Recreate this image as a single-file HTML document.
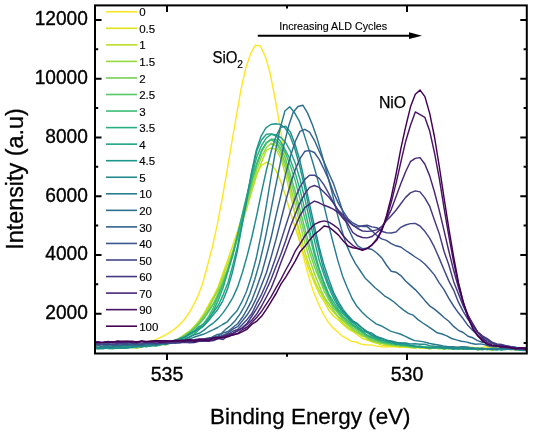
<!DOCTYPE html>
<html><head><meta charset="utf-8"><style>html,body{margin:0;padding:0;background:#fff;width:533px;height:432px;overflow:hidden}svg{display:block;will-change:transform}</style></head>
<body><svg width="533" height="432" viewBox="0 0 533 432"><path d="M95.0 343.08h3.2M526.8 343.08h-3.2M95.0 313.70h6.5M526.8 313.70h-6.5M95.0 284.32h3.2M526.8 284.32h-3.2M95.0 254.94h6.5M526.8 254.94h-6.5M95.0 225.56h3.2M526.8 225.56h-3.2M95.0 196.18h6.5M526.8 196.18h-6.5M95.0 166.80h3.2M526.8 166.80h-3.2M95.0 137.42h6.5M526.8 137.42h-6.5M95.0 108.04h3.2M526.8 108.04h-3.2M95.0 78.66h6.5M526.8 78.66h-6.5M95.0 49.28h3.2M526.8 49.28h-3.2M95.0 19.90h6.5M526.8 19.90h-6.5M167 5.4v6.5M167 353.5v6.5M287 5.4v3.2M287 353.5v3.2M407 5.4v6.5M407 353.5v6.5" stroke="#000" stroke-width="2" fill="none"/>
<g clip-path="url(#pc)"><clipPath id="pc"><rect x="95" y="5" width="432" height="348"/></clipPath><path d="M95.0,345.1 97.0,345.3 101.8,344.9 106.6,343.9 111.4,344.9 116.2,344.6 121.0,343.9 125.8,344.1 130.6,343.7 135.4,343.3 140.2,342.9 145.0,342.7 149.8,341.2 154.6,340.2 159.4,337.9 164.2,335.6 169.0,332.8 173.8,329.7 178.6,325.6 183.4,320.7 188.2,314.3 193.0,305.9 197.8,296.4 202.6,283.5 207.4,266.0 212.2,247.5 217.0,226.2 221.8,200.8 226.6,173.5 231.4,144.6 236.2,117.1 241.0,89.3 245.8,67.9 250.6,53.7 255.4,45.1 260.2,46.0 265.0,55.5 269.8,71.8 274.6,95.8 279.4,123.1 284.2,151.7 289.0,181.3 293.8,209.4 298.6,234.1 303.4,256.5 308.2,275.1 313.0,290.3 317.8,302.3 322.6,312.8 327.4,321.0 332.2,327.1 337.0,331.3 341.8,335.8 346.6,338.4 351.4,341.4 356.2,342.0 361.0,344.1 365.8,344.7 370.6,344.9 375.4,345.9 380.2,346.5 385.0,347.0 389.8,346.6 394.6,346.7 399.4,347.4 404.2,347.2 409.0,347.6 413.8,347.9 418.6,346.7 423.4,347.6 428.2,348.1 433.0,347.4 437.8,347.1 442.6,347.9 447.4,347.7 452.2,348.0 457.0,347.4 461.8,346.8 466.6,347.5 471.4,347.3 476.2,347.9 481.0,347.6 485.8,346.7 490.6,347.0 495.4,348.0 500.2,347.9 505.0,347.2 509.8,347.6 514.6,347.8 519.4,347.6 524.2,347.6 527.0,347.2" fill="none" stroke="#fde725" stroke-width="1.45" stroke-linejoin="round"/><path d="M95.0,347.7 98.4,347.3 103.2,347.4 108.0,346.4 112.8,348.4 117.6,348.0 122.4,347.1 127.2,347.5 132.0,347.1 136.8,346.5 141.6,346.9 146.4,345.8 151.2,345.3 156.0,344.5 160.8,344.7 165.6,343.9 170.4,342.9 175.2,340.4 180.0,337.9 184.8,334.2 189.6,331.2 194.4,326.1 199.2,320.4 204.0,313.5 208.8,304.7 213.6,296.2 218.4,286.2 223.2,272.5 228.0,259.3 232.8,245.2 237.6,231.3 242.4,215.2 247.2,200.1 252.0,185.5 256.8,173.2 261.6,165.3 266.4,162.1 271.2,164.7 276.0,170.4 280.8,181.6 285.6,196.0 290.4,212.4 295.2,227.2 300.0,242.6 304.8,257.4 309.6,271.5 314.4,282.8 319.2,293.9 324.0,301.3 328.8,310.2 333.6,316.3 338.4,320.0 343.2,324.7 348.0,328.8 352.8,331.5 357.6,335.0 362.4,338.5 367.2,340.0 372.0,341.8 376.8,343.2 381.6,345.1 386.4,345.6 391.2,346.1 396.0,346.3 400.8,347.0 405.6,346.5 410.4,346.7 415.2,346.5 420.0,348.4 424.8,348.0 429.6,348.8 434.4,348.1 439.2,347.9 444.0,348.5 448.8,348.3 453.6,347.8 458.4,348.0 463.2,349.4 468.0,348.8 472.8,348.9 477.6,348.6 482.4,348.4 487.2,349.2 492.0,348.8 496.8,348.5 501.6,348.8 506.4,348.5 511.2,349.0 516.0,349.6 520.8,348.8 525.6,350.1 527.0,349.1" fill="none" stroke="#dde318" stroke-width="1.45" stroke-linejoin="round"/><path d="M95.0,348.6 98.4,346.3 103.2,347.7 108.0,347.2 112.8,347.2 117.6,347.2 122.4,346.2 127.2,346.9 132.0,346.4 136.8,348.3 141.6,346.5 146.4,345.7 151.2,345.3 156.0,344.7 160.8,344.0 165.6,343.8 170.4,343.0 175.2,340.8 180.0,338.8 184.8,335.2 189.6,331.6 194.4,327.8 199.2,321.6 204.0,314.3 208.8,306.5 213.6,297.7 218.4,288.1 223.2,275.6 228.0,263.3 232.8,250.8 237.6,236.0 242.4,221.7 247.2,206.9 252.0,190.9 256.8,175.1 261.6,161.9 266.4,150.4 271.2,147.9 276.0,149.5 280.8,158.5 285.6,174.9 290.4,194.6 295.2,214.6 300.0,233.9 304.8,251.9 309.6,266.8 314.4,280.1 319.2,290.2 324.0,298.7 328.8,306.6 333.6,312.3 338.4,317.5 343.2,323.0 348.0,327.3 352.8,330.4 357.6,333.2 362.4,336.4 367.2,337.6 372.0,341.4 376.8,342.9 381.6,343.0 386.4,344.7 391.2,344.8 396.0,346.2 400.8,345.2 405.6,346.3 410.4,347.6 415.2,348.1 420.0,346.7 424.8,347.7 429.6,348.2 434.4,347.9 439.2,349.1 444.0,347.8 448.8,348.6 453.6,347.9 458.4,349.2 463.2,348.6 468.0,348.5 472.8,347.9 477.6,349.7 482.4,349.3 487.2,349.3 492.0,349.5 496.8,349.2 501.6,348.7 506.4,348.7 511.2,348.7 516.0,349.8 520.8,348.6 525.6,349.1 527.0,349.3" fill="none" stroke="#bade28" stroke-width="1.45" stroke-linejoin="round"/><path d="M95.0,347.3 98.4,347.5 103.2,348.3 108.0,347.7 112.8,346.4 117.6,347.1 122.4,346.7 127.2,346.9 132.0,345.9 136.8,346.7 141.6,346.4 146.4,346.6 151.2,345.6 156.0,345.4 160.8,344.0 165.6,345.1 170.4,341.9 175.2,341.7 180.0,338.7 184.8,335.4 189.6,331.8 194.4,327.2 199.2,322.1 204.0,315.3 208.8,308.6 213.6,298.5 218.4,289.9 223.2,278.8 228.0,267.8 232.8,253.0 237.6,238.8 242.4,222.3 247.2,203.5 252.0,186.6 256.8,169.4 261.6,156.5 266.4,147.5 271.2,143.2 276.0,146.0 280.8,154.6 285.6,168.7 290.4,186.2 295.2,204.7 300.0,224.2 304.8,242.5 309.6,259.2 314.4,273.6 319.2,285.6 324.0,296.7 328.8,303.6 333.6,310.6 338.4,316.6 343.2,320.7 348.0,325.3 352.8,329.3 357.6,332.8 362.4,334.5 367.2,338.5 372.0,340.0 376.8,341.9 381.6,343.4 386.4,344.2 391.2,345.2 396.0,345.4 400.8,345.8 405.6,346.5 410.4,346.4 415.2,347.8 420.0,347.1 424.8,347.0 429.6,348.9 434.4,348.0 439.2,347.6 444.0,349.2 448.8,348.2 453.6,349.0 458.4,348.1 463.2,348.5 468.0,347.9 472.8,347.9 477.6,348.4 482.4,348.9 487.2,349.4 492.0,350.3 496.8,348.6 501.6,349.7 506.4,348.9 511.2,349.2 516.0,348.6 520.8,348.7 525.6,349.1 527.0,348.9" fill="none" stroke="#95d840" stroke-width="1.45" stroke-linejoin="round"/><path d="M95.0,347.4 98.4,347.1 103.2,347.6 108.0,347.9 112.8,348.2 117.6,347.7 122.4,347.3 127.2,347.1 132.0,347.7 136.8,347.9 141.6,346.8 146.4,345.4 151.2,345.0 156.0,345.8 160.8,344.7 165.6,343.1 170.4,342.6 175.2,340.2 180.0,337.8 184.8,335.0 189.6,331.6 194.4,328.0 199.2,322.7 204.0,316.8 208.8,310.8 213.6,303.2 218.4,292.5 223.2,281.9 228.0,268.4 232.8,253.7 237.6,236.1 242.4,218.4 247.2,199.4 252.0,180.8 256.8,163.9 261.6,151.5 266.4,142.8 271.2,139.7 276.0,143.4 280.8,150.9 285.6,164.3 290.4,180.2 295.2,197.1 300.0,217.0 304.8,234.5 309.6,251.9 314.4,266.8 319.2,278.7 324.0,290.6 328.8,299.9 333.6,308.2 338.4,313.5 343.2,319.8 348.0,323.6 352.8,328.0 357.6,331.0 362.4,334.9 367.2,337.2 372.0,340.6 376.8,341.4 381.6,342.7 386.4,343.5 391.2,343.7 396.0,344.7 400.8,346.1 405.6,345.8 410.4,346.5 415.2,346.8 420.0,347.5 424.8,347.3 429.6,347.6 434.4,348.1 439.2,348.2 444.0,347.9 448.8,348.9 453.6,347.8 458.4,347.9 463.2,348.0 468.0,349.3 472.8,348.8 477.6,348.5 482.4,348.5 487.2,349.3 492.0,348.6 496.8,348.6 501.6,349.5 506.4,348.7 511.2,349.1 516.0,349.3 520.8,349.2 525.6,349.4 527.0,350.1" fill="none" stroke="#75d054" stroke-width="1.45" stroke-linejoin="round"/><path d="M95.0,348.5 98.4,348.8 103.2,346.6 108.0,347.7 112.8,348.2 117.6,348.2 122.4,347.7 127.2,347.9 132.0,347.1 136.8,347.0 141.6,346.4 146.4,345.4 151.2,345.0 156.0,345.1 160.8,344.1 165.6,344.5 170.4,343.4 175.2,342.0 180.0,338.7 184.8,336.9 189.6,332.7 194.4,328.7 199.2,324.1 204.0,318.6 208.8,311.3 213.6,303.7 218.4,295.1 223.2,282.9 228.0,270.3 232.8,254.3 237.6,237.0 242.4,218.3 247.2,199.6 252.0,180.7 256.8,165.0 261.6,151.5 266.4,143.1 271.2,139.2 276.0,141.7 280.8,148.2 285.6,158.8 290.4,174.9 295.2,191.0 300.0,209.6 304.8,228.2 309.6,246.2 314.4,261.1 319.2,275.5 324.0,287.2 328.8,296.4 333.6,305.9 338.4,312.7 343.2,317.7 348.0,322.6 352.8,326.1 357.6,329.4 362.4,332.9 367.2,336.3 372.0,338.3 376.8,340.5 381.6,342.2 386.4,342.8 391.2,343.9 396.0,345.1 400.8,344.4 405.6,346.1 410.4,345.4 415.2,347.0 420.0,347.2 424.8,347.1 429.6,347.0 434.4,347.7 439.2,347.7 444.0,348.1 448.8,347.8 453.6,348.6 458.4,347.9 463.2,348.4 468.0,348.5 472.8,349.4 477.6,348.1 482.4,348.7 487.2,349.5 492.0,348.7 496.8,348.5 501.6,349.3 506.4,349.0 511.2,349.7 516.0,348.8 520.8,349.5 525.6,349.8 527.0,350.0" fill="none" stroke="#56c667" stroke-width="1.45" stroke-linejoin="round"/><path d="M95.0,347.9 98.4,347.9 103.2,347.3 108.0,346.7 112.8,346.8 117.6,346.3 122.4,346.6 127.2,347.1 132.0,345.9 136.8,345.6 141.6,346.0 146.4,345.8 151.2,345.3 156.0,344.2 160.8,343.9 165.6,343.9 170.4,342.1 175.2,341.4 180.0,339.0 184.8,337.4 189.6,334.8 194.4,332.4 199.2,327.7 204.0,323.1 208.8,316.1 213.6,307.3 218.4,295.6 223.2,284.1 228.0,269.8 232.8,253.4 237.6,234.6 242.4,216.1 247.2,196.7 252.0,178.5 256.8,163.4 261.6,150.1 266.4,142.5 271.2,139.3 276.0,139.5 280.8,144.7 285.6,153.6 290.4,165.8 295.2,180.6 300.0,199.0 304.8,218.5 309.6,235.9 314.4,255.1 319.2,270.8 324.0,284.3 328.8,296.9 333.6,305.2 338.4,310.8 343.2,316.5 348.0,321.0 352.8,324.8 357.6,329.1 362.4,332.0 367.2,335.3 372.0,338.3 376.8,339.4 381.6,341.6 386.4,342.7 391.2,343.8 396.0,343.6 400.8,344.5 405.6,345.3 410.4,346.6 415.2,347.1 420.0,346.2 424.8,346.7 429.6,347.6 434.4,346.5 439.2,347.4 444.0,347.7 448.8,348.6 453.6,348.5 458.4,348.2 463.2,348.3 468.0,348.3 472.8,349.2 477.6,348.3 482.4,348.5 487.2,348.9 492.0,348.7 496.8,348.7 501.6,348.3 506.4,349.0 511.2,348.8 516.0,349.7 520.8,349.6 525.6,349.4 527.0,349.8" fill="none" stroke="#3dbc74" stroke-width="1.45" stroke-linejoin="round"/><path d="M95.0,347.1 98.4,347.2 103.2,346.8 108.0,346.9 112.8,345.7 117.6,346.6 122.4,346.0 127.2,346.7 132.0,346.5 136.8,346.5 141.6,346.0 146.4,345.6 151.2,345.7 156.0,345.4 160.8,343.6 165.6,343.8 170.4,342.8 175.2,342.5 180.0,340.0 184.8,338.6 189.6,336.9 194.4,334.1 199.2,329.5 204.0,325.6 208.8,318.9 213.6,310.6 218.4,300.1 223.2,287.5 228.0,271.3 232.8,255.5 237.6,234.9 242.4,213.6 247.2,193.9 252.0,174.9 256.8,156.8 261.6,145.3 266.4,137.8 271.2,134.3 276.0,135.7 280.8,141.8 285.6,150.7 290.4,159.9 295.2,172.9 300.0,189.6 304.8,209.7 309.6,230.5 314.4,251.1 319.2,268.8 324.0,282.4 328.8,294.1 333.6,302.2 338.4,309.4 343.2,314.1 348.0,318.9 352.8,325.0 357.6,327.8 362.4,331.3 367.2,335.2 372.0,337.1 376.8,338.8 381.6,340.5 386.4,341.4 391.2,343.3 396.0,343.4 400.8,345.2 405.6,345.0 410.4,345.8 415.2,346.2 420.0,347.1 424.8,347.2 429.6,348.0 434.4,347.3 439.2,347.9 444.0,348.9 448.8,348.0 453.6,348.5 458.4,349.2 463.2,348.8 468.0,348.3 472.8,347.6 477.6,349.9 482.4,349.0 487.2,349.5 492.0,348.7 496.8,349.9 501.6,349.3 506.4,349.2 511.2,348.7 516.0,349.4 520.8,349.1 525.6,349.3 527.0,348.7" fill="none" stroke="#29af7f" stroke-width="1.45" stroke-linejoin="round"/><path d="M95.0,347.9 98.4,348.3 103.2,347.4 108.0,348.6 112.8,348.7 117.6,347.8 122.4,348.0 127.2,347.7 132.0,347.1 136.8,346.6 141.6,345.6 146.4,346.7 151.2,345.4 156.0,346.0 160.8,344.7 165.6,343.9 170.4,342.3 175.2,341.6 180.0,338.3 184.8,337.0 189.6,333.4 194.4,330.7 199.2,326.3 204.0,324.1 208.8,318.1 213.6,312.0 218.4,305.2 223.2,294.6 228.0,282.7 232.8,265.3 237.6,245.8 242.4,221.2 247.2,195.2 252.0,171.1 256.8,150.9 261.6,139.7 266.4,134.3 271.2,133.9 276.0,135.0 280.8,137.5 285.6,142.5 290.4,151.2 295.2,163.0 300.0,179.2 304.8,198.7 309.6,220.0 314.4,240.4 319.2,260.3 324.0,274.7 328.8,287.7 333.6,298.3 338.4,306.7 343.2,312.6 348.0,317.7 352.8,322.4 357.6,326.5 362.4,330.5 367.2,332.7 372.0,335.9 376.8,337.8 381.6,340.1 386.4,341.6 391.2,341.8 396.0,344.4 400.8,344.1 405.6,344.7 410.4,345.5 415.2,346.4 420.0,346.9 424.8,347.5 429.6,347.5 434.4,347.9 439.2,347.0 444.0,347.6 448.8,347.6 453.6,348.4 458.4,348.7 463.2,347.8 468.0,348.4 472.8,348.9 477.6,349.0 482.4,348.1 487.2,348.9 492.0,348.9 496.8,348.5 501.6,349.8 506.4,348.3 511.2,348.7 516.0,349.2 520.8,349.3 525.6,349.3 527.0,350.1" fill="none" stroke="#20a386" stroke-width="1.45" stroke-linejoin="round"/><path d="M95.0,347.8 98.0,347.9 102.8,347.9 107.5,348.4 112.3,348.0 117.1,348.0 122.0,348.2 126.8,348.0 131.5,347.6 136.3,346.8 141.1,346.2 145.9,345.6 150.7,345.3 155.5,344.8 160.3,343.8 165.1,343.3 169.9,343.0 174.7,340.4 179.5,339.1 184.3,337.3 189.1,334.4 193.9,331.7 198.7,328.8 203.5,325.8 208.3,321.1 213.1,315.1 217.9,309.2 222.7,301.1 227.5,289.1 232.3,272.9 237.1,252.0 241.9,226.4 246.7,200.0 251.5,172.6 256.3,150.2 261.1,136.1 265.9,127.8 270.8,124.5 275.5,123.7 280.3,124.4 285.1,128.0 289.9,135.4 294.8,148.5 299.5,165.5 304.3,185.6 309.1,208.8 313.9,230.5 318.8,250.1 323.5,268.7 328.3,282.9 333.1,293.9 337.9,304.0 342.8,310.8 347.5,316.5 352.3,321.6 357.1,324.1 361.9,328.0 366.8,331.6 371.5,334.9 376.3,336.8 381.1,338.5 385.9,340.0 390.8,341.7 395.5,342.9 400.3,342.8 405.1,343.4 409.9,345.4 414.8,346.0 419.5,346.2 424.3,347.4 429.1,347.8 433.9,347.3 438.8,347.6 443.5,348.3 448.3,347.9 453.1,347.6 457.9,348.4 462.7,348.1 467.5,348.7 472.3,348.3 477.1,348.6 481.9,349.0 486.7,348.7 491.5,348.5 496.3,348.4 501.1,349.8 505.9,349.5 510.7,348.2 515.6,348.5 520.4,349.5 525.1,349.1 527.0,349.4" fill="none" stroke="#1f968b" stroke-width="1.45" stroke-linejoin="round"/><path d="M95.0,348.4 98.4,348.9 103.2,348.7 108.0,347.6 112.8,347.6 117.6,347.3 122.4,347.7 127.2,347.2 132.0,347.4 136.8,345.8 141.6,347.1 146.4,345.8 151.2,345.8 156.0,344.9 160.8,344.3 165.6,344.0 170.4,343.3 175.2,341.7 180.0,340.5 184.8,339.5 189.6,337.0 194.4,334.7 199.2,333.3 204.0,330.1 208.8,326.2 213.6,322.8 218.4,318.4 223.2,312.6 228.0,305.6 232.8,297.6 237.6,286.9 242.4,272.5 247.2,255.5 252.0,236.5 256.8,215.0 261.6,191.8 266.4,170.2 271.2,151.2 276.0,136.2 280.8,127.2 285.6,126.3 290.4,132.1 295.2,144.8 300.0,160.8 304.8,182.1 309.6,204.4 314.4,226.0 319.2,247.2 324.0,265.1 328.8,279.3 333.6,292.5 338.4,301.9 343.2,309.6 348.0,315.6 352.8,320.8 357.6,323.7 362.4,328.2 367.2,331.6 372.0,333.3 376.8,336.7 381.6,338.2 386.4,340.2 391.2,341.0 396.0,342.2 400.8,343.2 405.6,343.0 410.4,344.0 415.2,343.8 420.0,344.3 424.8,344.2 429.6,345.6 434.4,346.1 439.2,346.4 444.0,347.5 448.8,348.4 453.6,349.0 458.4,347.6 463.2,349.1 468.0,349.0 472.8,348.8 477.6,348.5 482.4,349.7 487.2,348.5 492.0,349.5 496.8,349.9 501.6,348.5 506.4,349.2 511.2,348.8 516.0,349.6 520.8,350.3 525.6,350.5 527.0,348.6" fill="none" stroke="#238a8d" stroke-width="1.45" stroke-linejoin="round"/><path d="M95.0,347.0 97.7,347.4 102.5,347.1 107.3,346.9 112.1,347.2 116.9,345.6 121.7,345.8 126.5,345.3 131.3,345.6 136.1,345.8 140.9,345.0 145.7,345.0 150.5,343.6 155.3,344.2 160.1,343.3 164.9,344.0 169.7,343.0 174.5,342.3 179.3,340.9 184.1,340.3 188.9,339.2 193.7,337.3 198.5,335.8 203.3,334.3 208.1,332.1 212.9,329.9 217.7,327.5 222.5,324.5 227.3,321.8 232.1,316.0 236.9,311.1 241.7,302.2 246.5,291.5 251.3,276.8 256.1,258.8 260.9,235.8 265.7,209.3 270.5,180.0 275.3,151.9 280.1,128.6 284.9,111.0 289.7,106.8 294.5,112.6 299.3,121.1 304.1,134.6 308.9,149.6 313.7,165.5 318.5,182.6 323.3,202.6 328.1,222.9 332.9,241.9 337.7,260.1 342.5,275.9 347.3,287.7 352.1,298.5 356.9,306.3 361.7,311.8 366.5,316.5 371.3,320.2 376.1,323.9 380.9,325.7 385.7,328.3 390.5,331.1 395.3,332.6 400.1,334.0 404.9,336.1 409.7,338.5 414.5,340.6 419.3,341.1 424.1,341.9 428.9,343.3 433.7,344.2 438.5,345.0 443.3,346.0 448.1,346.8 452.9,346.7 457.7,347.2 462.5,346.7 467.3,347.0 472.1,348.1 476.9,348.6 481.7,348.8 486.5,348.9 491.3,349.1 496.1,349.3 500.9,348.1 505.7,348.7 510.5,349.4 515.3,349.6 520.1,348.6 524.9,350.0 527.0,349.3" fill="none" stroke="#287d8e" stroke-width="1.45" stroke-linejoin="round"/><path d="M95.0,346.8 96.4,344.4 101.2,346.2 106.0,345.5 110.8,345.9 115.6,345.3 120.4,345.9 125.2,344.9 130.0,344.5 134.8,344.9 139.6,344.7 144.4,344.1 149.2,343.8 154.0,344.0 158.8,343.7 163.6,342.8 168.4,342.6 173.2,341.5 178.0,342.8 182.8,341.4 187.6,341.7 192.4,340.7 197.2,340.8 202.0,339.8 206.8,338.2 211.6,337.5 216.4,334.8 221.2,333.7 226.0,329.1 230.8,325.2 235.6,320.2 240.4,313.3 245.2,305.0 250.0,293.5 254.8,279.3 259.6,262.6 264.4,242.3 269.2,219.1 274.0,194.3 278.8,170.6 283.6,146.3 288.4,126.8 293.2,112.3 298.0,106.5 302.8,105.2 307.6,113.1 312.4,124.7 317.2,138.6 322.0,155.0 326.8,172.7 331.6,190.8 336.4,210.6 341.2,228.2 346.0,243.6 350.8,254.9 355.6,263.9 360.4,271.0 365.2,278.2 370.0,282.7 374.8,287.5 379.6,291.5 384.4,295.8 389.2,298.6 394.0,302.0 398.8,306.2 403.6,310.1 408.4,313.3 413.2,315.2 418.0,319.6 422.8,323.0 427.6,326.1 432.4,329.3 437.2,332.8 442.0,334.0 446.8,335.9 451.6,338.5 456.4,339.9 461.2,341.3 466.0,341.9 470.8,343.2 475.6,344.3 480.4,343.9 485.2,344.8 490.0,346.6 494.8,346.9 499.6,346.6 504.4,346.6 509.2,347.3 514.0,347.0 518.8,347.9 523.6,349.5 527.0,348.9" fill="none" stroke="#2d718e" stroke-width="1.45" stroke-linejoin="round"/><path d="M95.0,345.8 98.4,344.9 103.2,344.3 108.0,343.5 112.8,344.6 117.6,345.3 122.4,344.6 127.2,344.7 132.0,344.8 136.8,343.7 141.6,345.3 146.4,343.3 151.2,343.7 156.0,344.7 160.8,343.0 165.6,342.9 170.4,342.2 175.2,342.3 180.0,340.7 184.8,341.1 189.6,341.8 194.4,340.5 199.2,339.7 204.0,339.2 208.8,338.4 213.6,337.1 218.4,335.9 223.2,332.9 228.0,331.5 232.8,327.5 237.6,323.7 242.4,317.3 247.2,309.1 252.0,299.8 256.8,287.2 261.6,273.6 266.4,256.0 271.2,237.3 276.0,215.7 280.8,195.7 285.6,174.1 290.4,156.4 295.2,141.5 300.0,131.4 304.8,129.3 309.6,132.1 314.4,140.3 319.2,151.2 324.0,161.9 328.8,173.3 333.6,183.9 338.4,198.0 343.2,213.0 348.0,227.8 352.8,238.3 357.6,245.8 362.4,248.6 367.2,248.2 372.0,249.5 376.8,253.0 381.6,257.7 386.4,265.0 391.2,271.3 396.0,272.2 400.8,275.6 405.6,281.0 410.4,285.4 415.2,289.6 420.0,294.7 424.8,300.4 429.6,305.8 434.4,309.1 439.2,313.1 444.0,317.5 448.8,321.3 453.6,326.4 458.4,330.3 463.2,332.5 468.0,336.2 472.8,337.8 477.6,340.6 482.4,342.3 487.2,342.8 492.0,343.1 496.8,344.8 501.6,345.0 506.4,345.6 511.2,346.6 516.0,347.8 520.8,347.8 525.6,348.2 527.0,347.4" fill="none" stroke="#33638d" stroke-width="1.45" stroke-linejoin="round"/><path d="M95.0,343.8 98.4,344.0 103.2,344.5 108.0,343.9 112.8,344.4 117.6,344.4 122.4,343.2 127.2,344.4 132.0,343.4 136.8,344.6 141.6,343.8 146.4,343.1 151.2,343.4 156.0,343.2 160.8,343.1 165.6,343.5 170.4,342.9 175.2,343.2 180.0,342.5 184.8,341.8 189.6,340.8 194.4,340.4 199.2,340.8 204.0,340.5 208.8,340.1 213.6,338.1 218.4,337.2 223.2,335.1 228.0,333.0 232.8,329.1 237.6,326.7 242.4,320.9 247.2,314.8 252.0,307.1 256.8,297.3 261.6,284.9 266.4,272.7 271.2,256.8 276.0,239.4 280.8,220.5 285.6,201.5 290.4,184.1 295.2,169.8 300.0,158.6 304.8,151.3 309.6,150.6 314.4,152.5 319.2,159.4 324.0,169.2 328.8,179.8 333.6,192.8 338.4,203.4 343.2,211.4 348.0,218.7 352.8,223.0 357.6,225.4 362.4,226.6 367.2,226.6 372.0,230.9 376.8,235.6 381.6,238.9 386.4,240.4 391.2,243.7 396.0,245.8 400.8,247.0 405.6,250.5 410.4,253.7 415.2,257.0 420.0,260.0 424.8,264.0 429.6,269.3 434.4,274.9 439.2,282.8 444.0,289.7 448.8,298.4 453.6,306.0 458.4,312.8 463.2,318.8 468.0,325.6 472.8,330.5 477.6,335.0 482.4,339.3 487.2,340.9 492.0,342.6 496.8,345.3 501.6,347.0 506.4,347.8 511.2,348.1 516.0,349.2 520.8,348.1 525.6,349.6 527.0,349.6" fill="none" stroke="#39558c" stroke-width="1.45" stroke-linejoin="round"/><path d="M95.0,343.7 98.4,344.2 103.2,344.3 108.0,344.2 112.8,344.6 117.6,343.4 122.4,343.8 127.2,343.2 132.0,342.6 136.8,342.8 141.6,343.1 146.4,342.5 151.2,342.8 156.0,343.3 160.8,342.9 165.6,342.8 170.4,342.5 175.2,342.0 180.0,341.0 184.8,342.2 189.6,340.6 194.4,341.2 199.2,340.6 204.0,340.3 208.8,339.7 213.6,338.6 218.4,338.2 223.2,335.7 228.0,334.9 232.8,331.2 237.6,329.4 242.4,324.4 247.2,319.4 252.0,313.3 256.8,303.2 261.6,294.3 266.4,283.3 271.2,270.6 276.0,256.7 280.8,241.4 285.6,226.2 290.4,211.4 295.2,198.1 300.0,186.8 304.8,179.4 309.6,175.2 314.4,175.2 319.2,178.4 324.0,184.9 328.8,193.6 333.6,202.9 338.4,211.2 343.2,216.9 348.0,221.4 352.8,225.3 357.6,227.1 362.4,225.8 367.2,225.2 372.0,226.9 376.8,227.7 381.6,231.3 386.4,232.8 391.2,233.0 396.0,232.0 400.8,227.3 405.6,225.0 410.4,223.6 415.2,223.4 420.0,226.0 424.8,231.3 429.6,238.2 434.4,247.2 439.2,258.1 444.0,269.7 448.8,280.9 453.6,290.1 458.4,302.2 463.2,311.3 468.0,319.4 472.8,325.9 477.6,332.2 482.4,336.8 487.2,339.5 492.0,343.2 496.8,344.9 501.6,345.9 506.4,346.5 511.2,348.3 516.0,348.4 520.8,348.9 525.6,348.3 527.0,349.7" fill="none" stroke="#404688" stroke-width="1.45" stroke-linejoin="round"/><path d="M95.0,343.5 98.4,343.1 103.2,342.5 108.0,342.0 112.8,341.7 117.6,342.6 122.4,342.2 127.2,342.2 132.0,342.3 136.8,342.3 141.6,341.1 146.4,342.8 151.2,341.5 156.0,343.4 160.8,342.8 165.6,342.2 170.4,343.1 175.2,342.4 180.0,342.7 184.8,342.4 189.6,342.8 194.4,342.6 199.2,341.4 204.0,341.3 208.8,341.4 213.6,340.5 218.4,338.6 223.2,339.5 228.0,335.7 232.8,333.4 237.6,330.7 242.4,327.6 247.2,323.2 252.0,316.0 256.8,308.4 261.6,300.0 266.4,289.8 271.2,279.0 276.0,266.4 280.8,254.4 285.6,241.0 290.4,226.2 295.2,214.3 300.0,202.8 304.8,193.8 309.6,187.4 314.4,185.5 319.2,187.4 324.0,192.3 328.8,197.1 333.6,203.3 338.4,210.3 343.2,215.1 348.0,220.3 352.8,225.2 357.6,228.5 362.4,231.0 367.2,231.4 372.0,231.0 376.8,229.9 381.6,226.7 386.4,220.8 391.2,215.8 396.0,210.3 400.8,203.7 405.6,197.4 410.4,192.9 415.2,190.9 420.0,191.9 424.8,197.9 429.6,206.1 434.4,219.9 439.2,233.4 444.0,251.3 448.8,264.7 453.6,281.4 458.4,293.7 463.2,305.9 468.0,315.9 472.8,323.7 477.6,331.8 482.4,335.8 487.2,338.7 492.0,342.2 496.8,344.0 501.6,344.4 506.4,346.2 511.2,346.7 516.0,347.7 520.8,348.0 525.6,347.9 527.0,347.8" fill="none" stroke="#453781" stroke-width="1.45" stroke-linejoin="round"/><path d="M95.0,342.2 98.4,341.8 103.2,342.6 108.0,341.6 112.8,343.1 117.6,342.5 122.4,341.8 127.2,342.1 132.0,342.5 136.8,343.0 141.6,341.0 146.4,341.9 151.2,341.6 156.0,341.1 160.8,341.6 165.6,341.2 170.4,341.3 175.2,340.3 180.0,340.4 184.8,340.3 189.6,339.9 194.4,339.6 199.2,338.9 204.0,338.9 208.8,338.4 213.6,337.7 218.4,337.0 223.2,336.4 228.0,334.5 232.8,333.5 237.6,330.8 242.4,328.1 247.2,324.2 252.0,320.0 256.8,313.9 261.6,306.0 266.4,297.0 271.2,288.0 276.0,275.9 280.8,262.7 285.6,250.4 290.4,237.6 295.2,226.2 300.0,215.6 304.8,207.7 309.6,204.1 314.4,201.1 319.2,202.8 324.0,205.3 328.8,207.0 333.6,209.3 338.4,212.6 343.2,218.6 348.0,224.0 352.8,232.5 357.6,235.8 362.4,237.5 367.2,237.9 372.0,236.5 376.8,232.5 381.6,228.5 386.4,219.9 391.2,209.6 396.0,196.7 400.8,183.7 405.6,171.7 410.4,161.7 415.2,158.4 420.0,157.6 424.8,164.0 429.6,175.6 434.4,191.7 439.2,210.1 444.0,230.3 448.8,251.0 453.6,270.3 458.4,287.2 463.2,303.0 468.0,314.7 472.8,324.3 477.6,332.2 482.4,337.7 487.2,342.3 492.0,344.9 496.8,345.9 501.6,347.0 506.4,347.5 511.2,347.1 516.0,348.9 520.8,348.1 525.6,348.0 527.0,348.5" fill="none" stroke="#482576" stroke-width="1.45" stroke-linejoin="round"/><path d="M95.0,341.8 98.5,342.4 103.3,342.1 108.1,341.5 112.9,342.1 117.7,341.0 122.5,342.0 127.3,341.4 132.1,342.0 136.9,341.8 141.7,341.1 146.5,341.8 151.3,341.8 156.1,341.3 160.9,342.5 165.7,341.9 170.5,340.9 175.3,340.9 180.1,341.5 184.9,341.4 189.7,340.8 194.5,341.7 199.3,340.9 204.1,340.2 208.9,340.1 213.7,339.7 218.5,338.3 223.3,337.8 228.1,336.0 232.9,335.1 237.7,333.4 242.5,329.7 247.3,327.0 252.1,322.0 256.9,317.3 261.7,311.1 266.5,303.8 271.3,296.4 276.1,287.6 280.9,279.4 285.7,270.0 290.5,261.4 295.3,251.0 300.1,243.9 304.9,235.8 309.7,229.6 314.5,224.3 319.3,222.0 324.1,220.9 328.9,222.1 333.7,225.1 338.5,228.8 343.3,236.1 348.1,241.3 352.9,245.5 357.7,248.5 362.5,249.8 367.3,248.3 372.1,244.8 376.9,238.7 381.7,230.2 386.5,218.2 391.3,202.1 396.1,183.1 400.9,161.9 405.7,141.2 410.5,125.2 415.3,111.9 420.1,114.6 424.9,117.4 429.7,131.1 434.5,152.8 439.3,178.3 444.1,208.4 448.9,236.4 453.7,262.3 458.5,284.5 463.3,302.3 468.1,317.8 472.9,328.8 477.7,335.8 482.5,339.8 487.3,344.4 492.1,345.6 496.9,345.9 501.7,347.6 506.5,346.4 511.3,348.1 516.1,348.7 520.9,348.6 525.7,349.4 527.0,348.4" fill="none" stroke="#481467" stroke-width="1.45" stroke-linejoin="round"/><path d="M95.0,341.8 98.5,342.6 103.3,342.6 108.1,342.0 112.9,342.0 117.7,341.5 122.5,341.3 127.3,341.2 132.1,341.1 136.9,342.0 141.7,341.5 146.5,341.5 151.3,341.0 156.1,340.7 160.9,340.6 165.7,340.7 170.5,341.3 175.3,340.9 180.1,340.5 184.9,340.5 189.7,339.7 194.5,340.8 199.3,339.4 204.1,339.7 208.9,340.5 213.7,337.7 218.5,337.7 223.3,337.4 228.1,336.9 232.9,334.7 237.7,333.8 242.5,331.7 247.3,329.0 252.1,324.1 256.9,321.1 261.7,316.1 266.5,309.2 271.3,301.4 276.1,293.5 280.9,284.1 285.7,277.1 290.5,269.2 295.3,260.8 300.1,251.7 304.9,246.2 309.7,239.9 314.5,234.3 319.3,230.5 324.1,226.0 328.9,227.0 333.7,230.9 338.5,235.1 343.3,241.0 348.1,246.0 352.9,247.8 357.7,248.5 362.5,250.4 367.3,248.3 372.1,244.8 376.9,240.0 381.7,230.7 386.5,215.8 391.3,196.9 396.1,174.0 400.9,148.4 405.7,126.6 410.5,106.8 415.3,94.3 420.1,90.1 424.9,96.6 429.7,113.4 434.5,137.0 439.3,166.5 444.1,198.3 448.9,228.8 453.7,257.2 458.5,282.7 463.3,302.3 468.1,317.5 472.9,328.3 477.7,335.7 482.5,341.1 487.3,344.2 492.1,345.7 496.9,346.0 501.7,346.1 506.5,347.0 511.3,347.9 516.1,348.5 520.9,347.8 525.7,348.4 527.0,348.6" fill="none" stroke="#440154" stroke-width="1.45" stroke-linejoin="round"/></g>
<rect x="95.0" y="5.4" width="431.79999999999995" height="348.1" fill="none" stroke="#000" stroke-width="2"/>
<g font-family='"Liberation Sans", sans-serif' fill="#000" stroke="#000" stroke-width="0.35"><text x="45.30" y="319.15" font-size="19.6" textLength="42.6" lengthAdjust="spacingAndGlyphs">2000</text><text x="45.30" y="260.39" font-size="19.6" textLength="42.6" lengthAdjust="spacingAndGlyphs">4000</text><text x="45.30" y="201.63" font-size="19.6" textLength="42.6" lengthAdjust="spacingAndGlyphs">6000</text><text x="45.30" y="142.87" font-size="19.6" textLength="42.6" lengthAdjust="spacingAndGlyphs">8000</text><text x="34.65" y="84.11" font-size="19.6" textLength="53.2" lengthAdjust="spacingAndGlyphs">10000</text><text x="34.65" y="25.35" font-size="19.6" textLength="53.2" lengthAdjust="spacingAndGlyphs">12000</text><text x="167" y="380.7" text-anchor="middle" font-size="19.6">535</text><text x="407" y="380.7" text-anchor="middle" font-size="19.6">530</text></g>
<text x="210" y="423.8" font-family='"Liberation Sans", sans-serif' font-size="22.8" fill="#000" stroke="#000" stroke-width="0.3" textLength="200.5" lengthAdjust="spacingAndGlyphs">Binding Energy (eV)</text>
<text transform="translate(23.1 249.8) rotate(-90)" x="0" y="0" font-family='"Liberation Sans", sans-serif' font-size="23" fill="#000" stroke="#000" stroke-width="0.3" textLength="141.5" lengthAdjust="spacingAndGlyphs">Intensity (a.u)</text>
<text x="279.2" y="30.3" font-family='"Liberation Sans", sans-serif' font-size="10.9" fill="#000" stroke="#000" stroke-width="0.15" textLength="108" lengthAdjust="spacingAndGlyphs">Increasing ALD Cycles</text>
<path d="M257.8 35.7H411" stroke="#000" stroke-width="2"/>
<path d="M409 32.3L422 35.7L409 39Z" fill="#000"/>
<text x="212.4" y="62.6" font-family='"Liberation Sans", sans-serif' font-size="16" fill="#000" stroke="#000" stroke-width="0.25" textLength="25" lengthAdjust="spacingAndGlyphs">SiO</text>
<text x="237.3" y="67.7" font-family='"Liberation Sans", sans-serif' font-size="10.2" fill="#000" stroke="#000" stroke-width="0.2">2</text>
<text x="378.9" y="108.1" font-family='"Liberation Sans", sans-serif' font-size="16" fill="#000" stroke="#000" stroke-width="0.25" textLength="27.3" lengthAdjust="spacingAndGlyphs">NiO</text>
<path d="M106 11.75H137" stroke="#fde725" stroke-width="1.6"/><text x="139.2" y="16.35" font-family='"Liberation Sans", sans-serif' font-size="11.5" fill="#000" stroke="#000" stroke-width="0.15">0</text><path d="M106 28.30H137" stroke="#dde318" stroke-width="1.6"/><text x="139.2" y="32.90" font-family='"Liberation Sans", sans-serif' font-size="11.5" fill="#000" stroke="#000" stroke-width="0.15">0.5</text><path d="M106 44.85H137" stroke="#bade28" stroke-width="1.6"/><text x="139.2" y="49.45" font-family='"Liberation Sans", sans-serif' font-size="11.5" fill="#000" stroke="#000" stroke-width="0.15">1</text><path d="M106 61.40H137" stroke="#95d840" stroke-width="1.6"/><text x="139.2" y="66.00" font-family='"Liberation Sans", sans-serif' font-size="11.5" fill="#000" stroke="#000" stroke-width="0.15">1.5</text><path d="M106 77.95H137" stroke="#75d054" stroke-width="1.6"/><text x="139.2" y="82.55" font-family='"Liberation Sans", sans-serif' font-size="11.5" fill="#000" stroke="#000" stroke-width="0.15">2</text><path d="M106 94.50H137" stroke="#56c667" stroke-width="1.6"/><text x="139.2" y="99.10" font-family='"Liberation Sans", sans-serif' font-size="11.5" fill="#000" stroke="#000" stroke-width="0.15">2.5</text><path d="M106 111.05H137" stroke="#3dbc74" stroke-width="1.6"/><text x="139.2" y="115.65" font-family='"Liberation Sans", sans-serif' font-size="11.5" fill="#000" stroke="#000" stroke-width="0.15">3</text><path d="M106 127.60H137" stroke="#29af7f" stroke-width="1.6"/><text x="139.2" y="132.20" font-family='"Liberation Sans", sans-serif' font-size="11.5" fill="#000" stroke="#000" stroke-width="0.15">3.5</text><path d="M106 144.15H137" stroke="#20a386" stroke-width="1.6"/><text x="139.2" y="148.75" font-family='"Liberation Sans", sans-serif' font-size="11.5" fill="#000" stroke="#000" stroke-width="0.15">4</text><path d="M106 160.70H137" stroke="#1f968b" stroke-width="1.6"/><text x="139.2" y="165.30" font-family='"Liberation Sans", sans-serif' font-size="11.5" fill="#000" stroke="#000" stroke-width="0.15">4.5</text><path d="M106 177.25H137" stroke="#238a8d" stroke-width="1.6"/><text x="139.2" y="181.85" font-family='"Liberation Sans", sans-serif' font-size="11.5" fill="#000" stroke="#000" stroke-width="0.15">5</text><path d="M106 193.80H137" stroke="#287d8e" stroke-width="1.6"/><text x="139.2" y="198.40" font-family='"Liberation Sans", sans-serif' font-size="11.5" fill="#000" stroke="#000" stroke-width="0.15">10</text><path d="M106 210.35H137" stroke="#2d718e" stroke-width="1.6"/><text x="139.2" y="214.95" font-family='"Liberation Sans", sans-serif' font-size="11.5" fill="#000" stroke="#000" stroke-width="0.15">20</text><path d="M106 226.90H137" stroke="#33638d" stroke-width="1.6"/><text x="139.2" y="231.50" font-family='"Liberation Sans", sans-serif' font-size="11.5" fill="#000" stroke="#000" stroke-width="0.15">30</text><path d="M106 243.45H137" stroke="#39558c" stroke-width="1.6"/><text x="139.2" y="248.05" font-family='"Liberation Sans", sans-serif' font-size="11.5" fill="#000" stroke="#000" stroke-width="0.15">40</text><path d="M106 260.00H137" stroke="#404688" stroke-width="1.6"/><text x="139.2" y="264.60" font-family='"Liberation Sans", sans-serif' font-size="11.5" fill="#000" stroke="#000" stroke-width="0.15">50</text><path d="M106 276.55H137" stroke="#453781" stroke-width="1.6"/><text x="139.2" y="281.15" font-family='"Liberation Sans", sans-serif' font-size="11.5" fill="#000" stroke="#000" stroke-width="0.15">60</text><path d="M106 293.10H137" stroke="#482576" stroke-width="1.6"/><text x="139.2" y="297.70" font-family='"Liberation Sans", sans-serif' font-size="11.5" fill="#000" stroke="#000" stroke-width="0.15">70</text><path d="M106 309.65H137" stroke="#481467" stroke-width="1.6"/><text x="139.2" y="314.25" font-family='"Liberation Sans", sans-serif' font-size="11.5" fill="#000" stroke="#000" stroke-width="0.15">90</text><path d="M106 326.20H137" stroke="#440154" stroke-width="1.6"/><text x="139.2" y="330.80" font-family='"Liberation Sans", sans-serif' font-size="11.5" fill="#000" stroke="#000" stroke-width="0.15">100</text></svg></body></html>
